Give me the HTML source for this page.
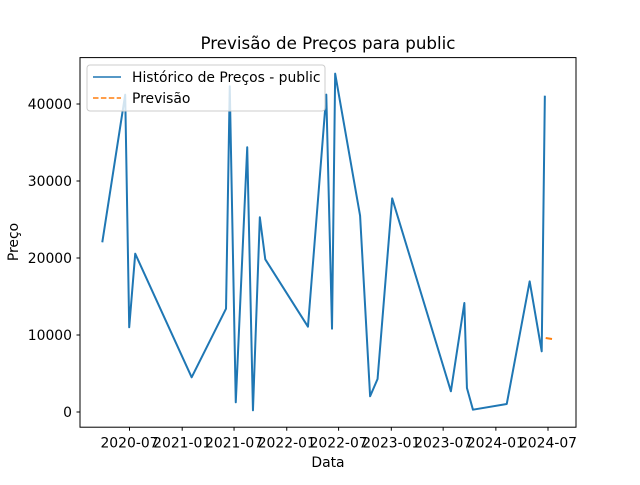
<!DOCTYPE html>
<html><head><meta charset="utf-8"><style>
body{margin:0;background:#fff}
svg{font-family:"DejaVu Sans","Liberation Sans",sans-serif}
</style></head><body>
<svg id="c" width="640" height="480">
<text x="328" y="49" text-anchor="middle" font-size="16.7">Previsão de Preços para public</text>
<text x="328" y="467" text-anchor="middle" font-size="13.9">Data</text>
<text x="18" y="242" text-anchor="middle" font-size="13.9" transform="rotate(-90 18 242)">Preço</text>
<g id="ticks"></g>
<g id="series"></g>
<rect x="80" y="57.6" width="496" height="369.6" fill="none" stroke="#000" stroke-width="1"/>
<g>
<rect x="87" y="65" width="238" height="46" rx="3" fill="#fff" fill-opacity="0.8" stroke="#ccc"/>
<line x1="93" y1="77" x2="121" y2="77" stroke="#1f77b4" stroke-width="1.5"/>
<text x="132" y="82" font-size="13.9">Histórico de Preços - public</text>
<line x1="93" y1="98" x2="121" y2="98" stroke="#ff7f0e" stroke-width="1.5" stroke-dasharray="5.5,2.4"/>
<text x="132" y="103" font-size="13.9">Previsão</text>
</g>
</svg>
<script>
const histDates=["2020-03-28","2020-06-16","2020-06-30","2020-07-21","2021-02-03","2021-06-03","2021-06-16","2021-07-07","2021-08-16","2021-09-05","2021-09-29","2021-10-18","2022-03-16","2022-05-19","2022-06-08","2022-06-19","2022-09-14","2022-10-19","2022-11-14","2023-01-04","2023-07-28","2023-09-13","2023-09-22","2023-10-13","2024-02-08","2024-04-28","2024-06-09","2024-06-20"];
const histValues=[22040,41210,11000,20560,4510,13420,42300,1260,34380,220,25290,19830,11080,41210,10820,43940,25490,2040,4290,27750,2690,14160,3120,300,1040,16970,7880,41080];
const fcDates=["2024-06-23","2024-07-15"];
const fcValues=[9610,9480];
const xTickDates=["2020-07-01","2021-01-01","2021-07-01","2022-01-01","2022-07-01","2023-01-01","2023-07-01","2024-01-01","2024-07-01"];
const xTickLabels=["2020-07","2021-01","2021-07","2022-01","2022-07","2023-01","2023-07","2024-01","2024-07"];
const yTicks=[0,10000,20000,30000,40000];

const NS="http://www.w3.org/2000/svg";
const t=d=>Date.parse(d+"T00:00:00Z");
const d0=t("2021-01-01"),d1=t("2024-07-01");
const x=d=>182.2+(t(d)-d0)/(d1-d0)*(548-182.2);
const y=v=>412-v*(308/40000);
const tk=document.getElementById("ticks"),sr=document.getElementById("series");
function mk(tag,attrs,parent){const e=document.createElementNS(NS,tag);for(const k in attrs)e.setAttribute(k,attrs[k]);parent.appendChild(e);return e;}
xTickDates.forEach((d,i)=>{
  const px=x(d);
  const l=mk("line",{x1:px,x2:px,y1:427.2,y2:430.7,stroke:"#000"},tk);
  
  
  const tx=mk("text",{x:px,y:447.5,"text-anchor":"middle","font-size":"13.9"},tk);
  tx.textContent=xTickLabels[i];
  
  
});
yTicks.forEach(v=>{
  const py=y(v);
  const l=mk("line",{x1:76.5,x2:80,y1:py,y2:py,stroke:"#000"},tk);
  
  
  const tx=mk("text",{x:72,y:py+5,"text-anchor":"end","font-size":"13.9"},tk);
  tx.textContent=String(v);
  
  
});
const hp=mk("polyline",{points:histDates.map((d,i)=>x(d)+","+y(histValues[i])).join(" "),fill:"none",stroke:"#1f77b4","stroke-width":"2","stroke-linejoin":"round"},sr);


const fp=mk("polyline",{points:fcDates.map((d,i)=>x(d)+","+y(fcValues[i])).join(" "),fill:"none",stroke:"#ff7f0e","stroke-width":"2","stroke-dasharray":"7,3"},sr);


</script>
</body></html>
